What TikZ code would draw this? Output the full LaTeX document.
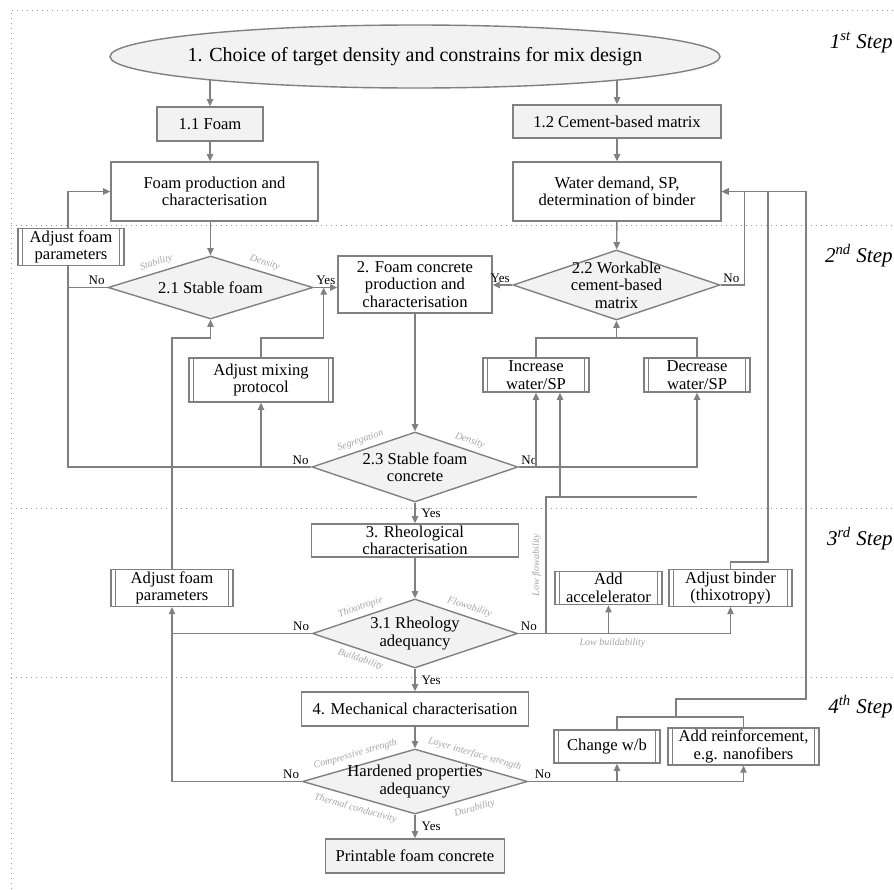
\documentclass[tikz,border=0pt]{standalone}
\usepackage{fontspec}
\setmainfont{Liberation Serif}
\definecolor{flowgray}{RGB}{128,128,128}
\definecolor{boxfill}{RGB}{242,242,242}
\definecolor{hintgray}{RGB}{165,165,165}
\usetikzlibrary{shapes,arrows.meta,calc,backgrounds}
\tikzstyle{stage} = [rectangle, draw=flowgray, line width=0.7pt, align=center,
    font=\fontsize{8.3}{8.7}\selectfont, inner sep=1pt]
\tikzstyle{keystage} = [stage, fill=boxfill]
\tikzstyle{decision} = [diamond, draw=flowgray, fill=boxfill, line width=0.7pt,
    align=center, font=\fontsize{8.3}{8.7}\selectfont, inner sep=-3pt]
\tikzstyle{adjust} = [stage, path picture={
    \draw [flowgray, line width=0.7pt] ([xshift=2.2pt]path picture bounding box.north west)
      -- ([xshift=2.2pt]path picture bounding box.south west);
    \draw [flowgray, line width=0.7pt] ([xshift=-2.2pt]path picture bounding box.north east)
      -- ([xshift=-2.2pt]path picture bounding box.south east);}]
\tikzstyle{line} = [draw=flowgray, line width=0.7pt, -{Triangle[length=3.6pt, width=3.2pt]}]
\tikzstyle{plain} = [draw=flowgray, line width=0.7pt]
\tikzstyle{answer} = [font=\fontsize{6.5}{7}\selectfont, inner sep=1pt]
\tikzstyle{hint} = [font=\fontsize{5}{6}\selectfont\itshape, text=hintgray, inner sep=2pt]
\tikzstyle{stepsep} = [draw=flowgray!80, dotted, line width=0.5pt]
\tikzstyle{steplabel} = [font=\fontsize{10.5}{12}\selectfont\itshape, anchor=east, inner sep=0pt]

\begin{document}
\begin{tikzpicture}[x=0.5pt, y=-0.5pt, node distance=36pt]
  \useasboundingbox (0,0) rectangle (894,889);
  % steps
  \draw [stepsep] (11,889) -- (11,10) -- (894,10);
  \draw [stepsep] (11,225) -- (894,225);
  \draw [stepsep] (11,508) -- (894,508);
  \draw [stepsep] (11,677) -- (894,677);
  \node [steplabel] (step1) at (893,43) {1\textsuperscript{st} Step};
  \node [steplabel] (step2) at (893,256) {2\textsuperscript{nd} Step};
  \node [steplabel] (step3) at (893,539) {3\textsuperscript{rd} Step};
  \node [steplabel] (step4) at (893,707) {4\textsuperscript{th} Step};

  % nodes
  \node [ellipse, draw=flowgray, fill=boxfill, line width=0.7pt, inner sep=-6pt,
    minimum width=305pt, minimum height=31.5pt, font=\fontsize{10}{11}\selectfont]
    (choice) at (415,56.5) {1. Choice of target density and constrains for mix design};
  \node [keystage, minimum width=53pt, minimum height=17pt] (foam) at (210,124) {1.1 Foam};
  \node [keystage, minimum width=104pt, minimum height=16.5pt] (matrix) at (617,121.5) {1.2 Cement-based matrix};
  \node [stage, minimum width=103.5pt, minimum height=29.5pt] (foamprod) at (214.5,191.5) {Foam production and\\characterisation};
  \node [stage, minimum width=104pt, minimum height=29.5pt] (water) at (617,191.5) {Water demand, SP,\\determination of binder};
  \node [adjust, minimum width=53pt, minimum height=17pt] (adjfoamA) at (71,247) {Adjust foam\\parameters};
  \node [decision, aspect=3.25, minimum width=102.5pt, minimum height=31.5pt] (stablefoam) at (210.5,287.5) {2.1 Stable foam};
  \node [stage, minimum width=77pt, minimum height=28.5pt] (fcprod) at (415,284.5) {2. Foam concrete\\production and\\characterisation};
  \node [decision, aspect=2.96, minimum width=103.5pt, minimum height=35pt] (workable) at (616.5,285) {2.2 Workable\\cement-based\\matrix};
  \node [adjust, minimum width=72pt, minimum height=22pt] (mixing) at (261,380) {Adjust mixing\\protocol};
  \node [adjust, minimum width=53pt, minimum height=17pt] (increase) at (536,375) {Increase\\water/SP};
  \node [adjust, minimum width=53pt, minimum height=17pt] (decrease) at (697,375) {Decrease\\water/SP};
  \node [decision, aspect=2.94, below of=fcprod, node distance=91.25pt, minimum width=103pt, minimum height=35pt] (stablefc) {2.3 Stable foam\\concrete};
  \node [stage, below of=stablefc, node distance=36.75pt, minimum width=103.5pt, minimum height=16.5pt] (rheo) {3. Rheological\\characterisation};
  \node [decision, aspect=2.97, below of=rheo, node distance=46.5pt, minimum width=102.5pt, minimum height=34.5pt] (rheoadq) {3.1 Rheology\\adequancy};
  \node [adjust, minimum width=61pt, minimum height=17pt] (adjfoamB) at (172,588) {Adjust foam\\parameters};
  \node [adjust, minimum width=53.5pt, minimum height=16pt] (accel) at (608.5,588) {Add\\accelelerator};
  \node [adjust, minimum width=61.5pt, minimum height=16pt] (binder) at (730.5,588) {Adjust binder\\(thixotropy)};
  \node [stage, below of=rheoadq, node distance=37.75pt, minimum width=113.5pt, minimum height=17pt] (mech) {4. Mechanical characterisation};
  \node [decision, aspect=3.46, below of=mech, node distance=36.25pt, minimum width=112.5pt, minimum height=32.5pt] (hardened) {Hardened properties\\adequancy};
  \node [keystage, below of=hardened, node distance=37.25pt, minimum width=89.5pt, minimum height=17pt] (printable) {Printable foam concrete};
  \node [adjust, minimum width=53pt, minimum height=16.5pt] (changewb) at (607,746.5) {Change w/b};
  \node [adjust, minimum width=75.5pt, minimum height=16.5pt] (reinf) at (743.5,746.5) {Add reinforcement,\\e.g. nanofibers};

  % criteria on the diamonds
  \node [hint, rotate=17, anchor=south] (stabhint) at ($(stablefoam.west)!.5!(stablefoam.north)$) {Stability};
  \node [hint, rotate=-17, anchor=south] (denshintA) at ($(stablefoam.east)!.5!(stablefoam.north)$) {Density};
  \node [hint, rotate=18.8, anchor=south] (seghint) at ($(stablefc.west)!.5!(stablefc.north)$) {Segregation};
  \node [hint, rotate=-18.8, anchor=south] (denshintB) at ($(stablefc.east)!.5!(stablefc.north)$) {Density};
  \node [hint, rotate=18.6, anchor=south] (thixhint) at ($(rheoadq.west)!.5!(rheoadq.north)$) {Thixotropie};
  \node [hint, rotate=-18.6, anchor=south] (flowhint) at ($(rheoadq.east)!.5!(rheoadq.north)$) {Flowability};
  \node [hint, rotate=-18.6, anchor=north] (buildhint) at ($(rheoadq.west)!.5!(rheoadq.south)$) {Buildability};
  \node [hint, inner sep=3pt, rotate=16.1, anchor=south] (comphint) at ($(hardened.west)!.5!(hardened.north)$) {Compressive strength};
  \node [hint, inner sep=3pt, rotate=-16.1, anchor=south] (layerhint) at ($(hardened.east)!.5!(hardened.north)$) {Layer interface strength};
  \node [hint, inner sep=3pt, rotate=-16.1, anchor=north] (thermhint) at ($(hardened.west)!.5!(hardened.south)$) {Thermal conductivity};
  \node [hint, inner sep=3pt, rotate=16.1, anchor=north] (durhint) at ($(hardened.east)!.5!(hardened.south)$) {Durability};

  % connectors
  \begin{scope}[on background layer]
    \path [line] (foam.north |- choice.center) -- (foam);
    \path [line] (matrix.north |- choice.center) -- (matrix);
  \end{scope}
  \path [line] (foam) -- (foam.south |- foamprod.north);
  \path [line] (matrix) -- (water);
  \path [line] (stablefoam.north |- foamprod.south) -- (stablefoam);
  \path [line] (water) -- (workable);
  \path [line] (stablefoam.east) -- node [answer, above right, pos=0] {Yes} (stablefoam.east -| fcprod.west);
  \path [line] (workable.west) -- node [answer, above left, pos=0] {Yes} (workable.west -| fcprod.east);
  \path [line] (workable.east) -- node [answer, above right, pos=0] {No} ++(24,0) |- (water.east);

  \coordinate (leftbus) at (68,287.5);
  \coordinate (upbus) at (0,338);
  \coordinate (yesjoin) at ([xshift=5pt]stablefoam.east);
  \draw [plain] (stablefoam.west) -- node [answer, above left, pos=0] {No} (leftbus) -- (leftbus |- adjfoamA.south);
  \path [line] (leftbus |- adjfoamA.north) |- (foamprod.west);
  \draw [plain] (stablefc.west) -- node [answer, above left, pos=0] {No} (stablefc.west -| leftbus) -- (leftbus);
  \path [line] (mixing.south |- stablefc.west) -- (mixing);
  \path [line] (mixing.north) |- (yesjoin |- upbus) -- (yesjoin);
  \path [line] (adjfoamB.north) |- (stablefoam.south |- upbus) -- (stablefoam.south);

  \path [line] (fcprod) -- (stablefc);
  \path [line] (stablefc) -- node [answer, right, xshift=2pt] {Yes} (rheo);
  \path [line] (rheo) -- (rheoadq);
  \path [line] (rheoadq) -- node [answer, right, xshift=2pt] {Yes} (mech);
  \path [line] (mech) -- (hardened);
  \path [line] (hardened) -- node [answer, right, xshift=2pt] {Yes} (printable);

  \draw [plain] (rheoadq.west) -- node [answer, above left, pos=0] {No} (rheoadq.west -| adjfoamB.south);
  \path [line] (hardened.west) -| node [answer, above left, pos=0] {No} (adjfoamB);

  \coordinate (flowbus) at (546,497);
  \path [line] (stablefc.east) -| node [answer, above right, pos=0] {No} (decrease);
  \path [line] (increase.south |- stablefc.east) -- (increase);
  \draw [plain] (rheoadq.east -| flowbus) -- node [hint, rotate=90, anchor=south] {Low flowability} (flowbus) -- (flowbus -| decrease.south);
  \path [line] ([xshift=12pt]increase.south |- flowbus) -- ([xshift=12pt]increase.south);
  \draw [plain] (increase.north) |- (decrease.north |- upbus) -- (decrease.north);
  \path [line] (workable.south |- upbus) -- (workable);

  \path [line] (rheoadq.east) -| node [answer, above right, pos=0] {No} (binder);
  \path [line] (accel.south |- rheoadq.east) -- node [hint, below, pos=0, xshift=2pt] {Low buildability} (accel);

  \coordinate (bindbus) at (768,562);
  \coordinate (fixjoin) at (676,717);
  \coordinate (mechbus) at (806,699);
  \draw [plain] (binder.north) |- (bindbus) -- (bindbus |- water.east);
  \draw [plain] ([xshift=5pt]changewb.north) |- (fixjoin) -| (reinf.north);
  \path [line] (fixjoin) |- (mechbus) -- (mechbus |- water.east) -- (water.east);
  \path [line] (hardened.east) -| node [answer, above right, pos=0, xshift=2pt] {No} (reinf);
  \path [line] ([xshift=5pt]changewb.south |- hardened.east) -- ([xshift=5pt]changewb.south);
\end{tikzpicture}
\end{document}
